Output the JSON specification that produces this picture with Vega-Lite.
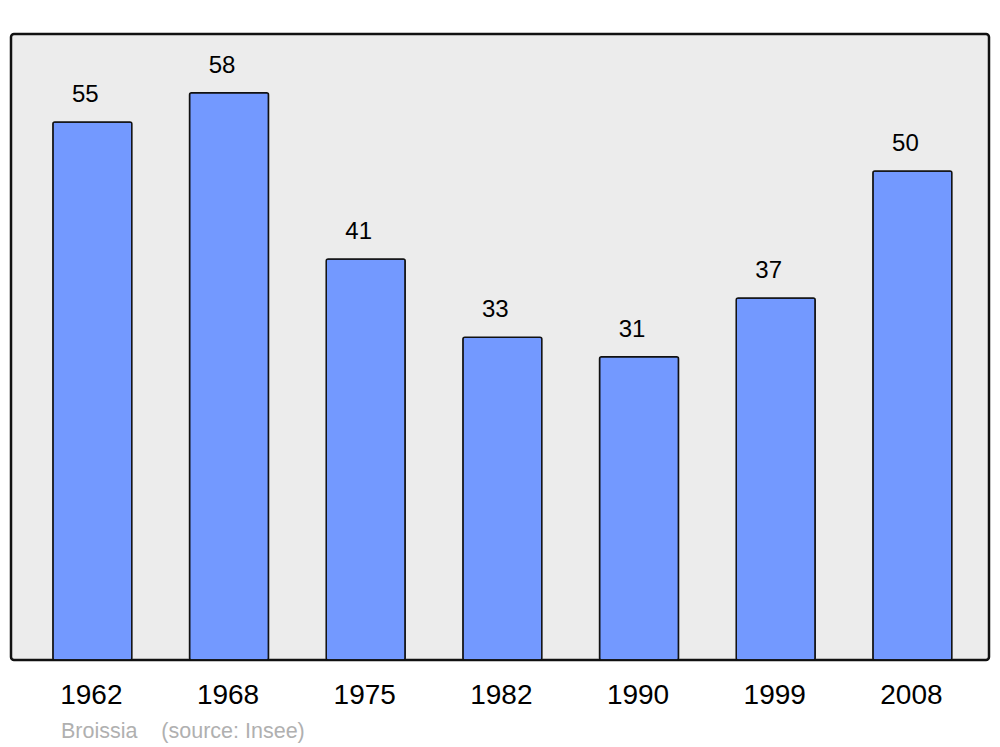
{
  "$schema": "https://vega.github.io/schema/vega-lite/v6.json",
  "width": 978,
  "height": 626,
  "autosize": {"type": "none"},
  "padding": {"left": 11, "top": 34, "right": 11, "bottom": 87},
  "background": "white",
  "config": {
    "font": "Liberation Sans",
    "view": {"fill": "#ececec", "stroke": "#111111", "strokeWidth": 2.5, "cornerRadius": 3}
  },
  "title": {
    "text": "Broissia\u00a0\u00a0\u00a0\u00a0(source: Insee)",
    "orient": "bottom",
    "anchor": "start",
    "frame": "group",
    "dx": 50,
    "offset": 29,
    "baseline": "alphabetic",
    "fontSize": 21.5,
    "fontWeight": "normal",
    "color": "#b0b0b0",
    "font": "Liberation Sans"
  },
  "data": {
    "values": [
      {"year": "1962", "pop": 55},
      {"year": "1968", "pop": 58},
      {"year": "1975", "pop": 41},
      {"year": "1982", "pop": 33},
      {"year": "1990", "pop": 31},
      {"year": "1999", "pop": 37},
      {"year": "2008", "pop": 50}
    ]
  },
  "encoding": {
    "x": {
      "field": "year",
      "type": "nominal",
      "sort": null,
      "scale": {"paddingInner": 0.422, "paddingOuter": 0.289, "align": 0.53},
      "axis": {
        "title": null,
        "domain": false,
        "ticks": false,
        "tickSize": 0,
        "labelPadding": 43,
        "labelBaseline": "alphabetic",
        "labelFontSize": 28,
        "labelColor": "black",
        "labelAngle": 0,
        "labelFont": "Liberation Sans",
        "labelOffset": -1
      }
    },
    "y": {
      "field": "pop",
      "type": "quantitative",
      "scale": {"domain": [0, 64], "nice": false, "zero": true},
      "axis": null
    }
  },
  "layer": [
    {
      "mark": {"type": "bar", "fill": "#7399ff", "stroke": "#111111", "strokeWidth": 1.5, "cornerRadius": 2}
    },
    {
      "mark": {"type": "text", "baseline": "alphabetic", "dy": -20, "dx": -7, "fontSize": 24, "color": "black", "font": "Liberation Sans"},
      "encoding": {"text": {"field": "pop", "type": "quantitative"}}
    }
  ]
}
